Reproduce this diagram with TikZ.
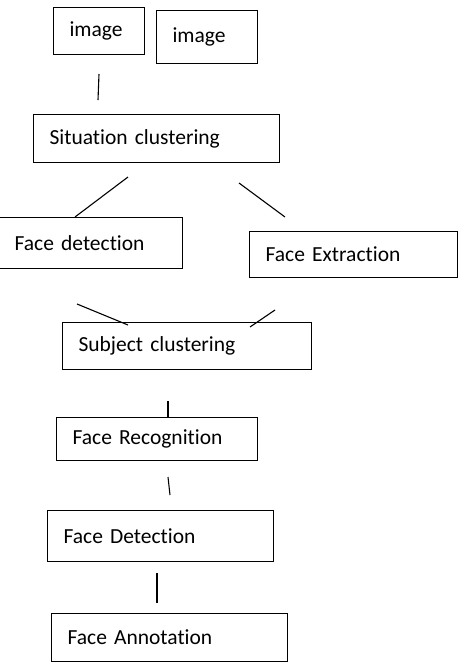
\documentclass[tikz,border=0pt]{standalone}
\usepackage{fontspec}
\setmainfont{Carlito}[Ligatures=NoCommon]
\usetikzlibrary{positioning}
\tikzstyle{stage} = [rectangle, draw=black, line width=1.1pt, anchor=north west, align=left, inner xsep=16pt, inner ysep=0pt, font=\fontsize{21.5}{25}\selectfont]
\tikzstyle{link} = [line width=1.1pt]

\begin{document}
\begin{tikzpicture}[x=1pt, y=-1pt]
\useasboundingbox (0,0) rectangle (458,664);

% Input images
\node[stage, text width=59pt, minimum height=47pt] (img_a) at (53,7) {image};
\node[stage, text width=69pt, minimum height=53pt] (img_b) at (156,10) {image};

% Situation clustering
\node[stage, text width=214pt, minimum height=48pt] (sit_clust) at (33,114) {Situation clustering};

% Two branches
\node[stage, text width=152pt, minimum height=51pt] (face_det) at (-2,217) {Face detection};
\node[stage, text width=176pt, minimum height=46pt] (face_ext) at (249,231) {Face Extraction};

% Subject clustering
\node[stage, text width=217pt, minimum height=47pt] (subj_clust) at (62,322) {Subject clustering};

% Recognition chain
\node[stage, text width=169pt, minimum height=43pt] (face_rec) at (56,417) {Face Recognition};
\node[stage, text width=194pt, minimum height=51pt] (face_detect) at (47,510) {Face Detection};
\node[stage, text width=204pt, minimum height=48pt] (face_annot) at (51,613) {Face Annotation};

% Line ends (links stop short of the boxes)
\coordinate (img_end) at (99,74);
\coordinate (sit_top) at (98,100);
\coordinate (sit_left) at (128,177);
\coordinate (det_top) at (75,217);
\coordinate (sit_right) at (239,183);
\coordinate (ext_top) at (285,217);
\coordinate (det_bot) at (77,304);
\coordinate (subj_left) at (128,325);
\coordinate (ext_bot) at (275,310);
\coordinate (subj_right) at (250,327);
\coordinate (subj_bot) at (168,401);
\coordinate (rec_top) at (168,417);
\coordinate (rec_bot) at (168,477);
\coordinate (detect_top) at (170,495);
\coordinate (detect_bot) at (157,573);
\coordinate (annot_top) at (157,603);

% Links
\draw[link] (img_end) -- (sit_top);
\draw[link] (sit_left) -- (det_top);
\draw[link] (sit_right) -- (ext_top);
\draw[link] (det_bot) -- (subj_left);
\draw[link] (ext_bot) -- (subj_right);
\draw[link] (subj_bot) -- (rec_top);
\draw[link] (rec_bot) -- (detect_top);
\draw[link] (detect_bot) -- (annot_top);

\end{tikzpicture}
\end{document}
